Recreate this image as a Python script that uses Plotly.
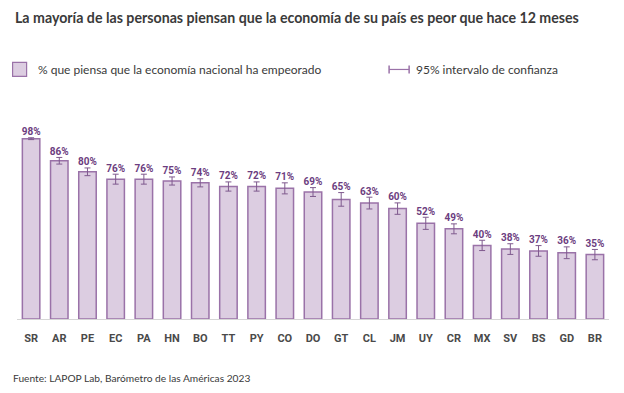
import plotly.graph_objects as go

countries = ["SR", "AR", "PE", "EC", "PA", "HN", "BO", "TT", "PY", "CO", "DO",
             "GT", "CL", "JM", "UY", "CR", "MX", "SV", "BS", "GD", "BR"]
values = [98, 86, 80, 76, 76, 75, 74, 72, 72, 71, 69,
          65, 63, 60, 52, 49, 40, 38, 37, 36, 35]
ci_half = [0.5, 1.8, 2.1, 2.7, 2.7, 2.2, 2.2, 2.5, 2.5, 3.0, 2.4,
           3.7, 3.2, 3.1, 3.3, 2.7, 2.8, 2.9, 2.9, 3.2, 2.8]
labels = [f"{v}%" for v in values]

FILL = "#dccde1"
EDGE = "#9a72a8"
LABEL = "#6c3d80"
ERR = "#7f5a8e"
TXT = "#3a3a3a"

# page has an 8px body margin; work in screen pixels and convert
OFF = 8
W, H = 608, 377
L, R, T, B = 17.4 - OFF, W - (608.6 - OFF), 135.4 - OFF, H - (319 - OFF)
plot_w = W - L - R
plot_h = H - T - B

def px(xs):
    return (xs - OFF - L) / plot_w

def py(ys):
    return (H - B - (ys - OFF)) / plot_h

fig = go.Figure()
fig.add_trace(go.Bar(
    x=countries, y=values,
    marker=dict(color=FILL, line=dict(color=EDGE, width=1.5)),
    width=0.62,
    error_y=dict(type="data", array=ci_half, visible=True,
                 color=ERR, thickness=1, width=3),
    hoverinfo="skip", showlegend=False,
))
fig.add_trace(go.Scatter(
    x=countries, y=[v + e for v, e in zip(values, ci_half)],
    mode="text", text=labels, textposition="top center",
    textfont=dict(family="Roboto", size=10, color=LABEL, weight="bold"),
    cliponaxis=False, hoverinfo="skip", showlegend=False,
))

fig.update_layout(
    width=W, height=H,
    margin=dict(l=L, r=R, t=T, b=B, pad=0),
    paper_bgcolor="white", plot_bgcolor="white",
    xaxis=dict(range=[-0.5, len(countries) - 0.5], showgrid=False,
               showline=True, linecolor="#d6d6d6", linewidth=1,
               ticks="", tickfont=dict(family="Roboto", size=11, color="#4a4a4a", weight="bold"),
               ticklabelstandoff=9),
    yaxis=dict(range=[0, 100], visible=False),
    font=dict(family="Lato"),
)

fig.add_annotation(xref="paper", yref="paper", x=px(13), y=py(18),
                   text="<b>La mayoría de las personas piensan que la economía de su país es peor que hace 12 meses</b>",
                   showarrow=False, xanchor="left", yanchor="middle",
                   font=dict(family="Lato", size=14.2, color=TXT))
fig.add_annotation(xref="paper", yref="paper", x=px(36), y=py(70.5),
                   text="% que piensa que la economía nacional ha empeorado",
                   showarrow=False, xanchor="left", yanchor="middle",
                   font=dict(family="Lato", size=12, color=TXT))
fig.add_annotation(xref="paper", yref="paper", x=px(414), y=py(70.5),
                   text="95% intervalo de confianza",
                   showarrow=False, xanchor="left", yanchor="middle",
                   font=dict(family="Lato", size=12, color=TXT))
fig.add_annotation(xref="paper", yref="paper", x=px(11), y=py(378),
                   text="Fuente: LAPOP Lab, Barómetro de las Américas 2023",
                   showarrow=False, xanchor="left", yanchor="middle",
                   font=dict(family="Lato", size=10.2, color=TXT))

# legend swatch
fig.add_shape(type="rect", xref="paper", yref="paper",
              x0=px(13), x1=px(27), y0=py(77), y1=py(63),
              fillcolor=FILL, line=dict(color=EDGE, width=1.2))
# legend CI icon
fig.add_shape(type="line", xref="paper", yref="paper",
              x0=px(389), x1=px(409), y0=py(70), y1=py(70),
              line=dict(color=EDGE, width=1.2))
for xx in (389, 409):
    fig.add_shape(type="line", xref="paper", yref="paper",
                  x0=px(xx), x1=px(xx), y0=py(66), y1=py(74),
                  line=dict(color=EDGE, width=1.5))

fig.write_html("out.html")
